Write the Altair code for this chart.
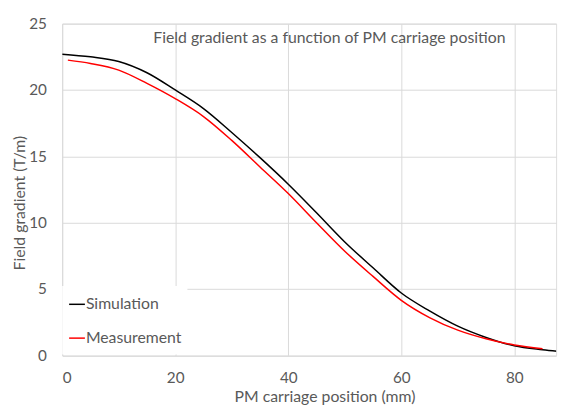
import altair as alt
import pandas as pd

# Simulation (black)
sim_x = [0, 5, 10, 15, 20, 25, 30, 35, 40, 45, 50, 55, 60, 65, 70, 75, 80, 85, 88.8]
sim_y = [22.7, 22.5, 22.15, 21.3, 20.0, 18.6, 16.8, 14.9, 12.9, 10.75, 8.55, 6.6, 4.7, 3.35, 2.2, 1.35, 0.72, 0.42, 0.25]

# Measurement (red)
meas_x = [1, 5, 10, 15, 20, 25, 30, 35, 40, 45, 50, 55, 60, 65, 70, 75, 80, 85]
meas_y = [22.25, 22.0, 21.5, 20.5, 19.35, 18.0, 16.2, 14.2, 12.2, 10.0, 7.85, 5.95, 4.15, 2.85, 1.9, 1.25, 0.78, 0.5]

series_names = ["Simulation", "Measurement"]
series_colors = ["#000000", "#FF0000"]
x_ticks = [0, 20, 40, 60, 80]
y_ticks = [0, 5, 10, 15, 20, 25]

title_text = "Field gradient as a function of PM carriage position"
x_title = "PM carriage position (mm)"
y_title = "Field gradient (T/m)"

FONT = "Lato"
GREY = "#595959"

df = pd.concat([
    pd.DataFrame({"x": sim_x, "y": sim_y, "series": series_names[0], "order": range(len(sim_x))}),
    pd.DataFrame({"x": meas_x, "y": meas_y, "series": series_names[1], "order": range(len(meas_x))}),
])

W, H = 501, 336.5

xscale = alt.Scale(domain=[0, 87.4], nice=False, zero=False)
yscale = alt.Scale(domain=[0, 25], nice=False)

lines = alt.Chart(df).mark_line(strokeWidth=1.5, clip=True, interpolate="monotone").encode(
    x=alt.X("x:Q", scale=xscale, axis=alt.Axis(
        values=x_ticks, title=x_title, grid=True, gridColor="#D9D9D9", domain=False,
        ticks=False, labelPadding=23, labelBaseline="middle", labelFontSize=15.5,
        labelColor=GREY, labelFont=FONT,
        titleFont=FONT, titleFontSize=16, titleColor=GREY, titleFontWeight="normal",
        titleX=266, titleY=42, titleBaseline="middle", titleAnchor="start", titleAlign="center")),
    y=alt.Y("y:Q", scale=yscale, axis=alt.Axis(
        values=y_ticks, title=y_title, grid=True, gridColor="#D9D9D9", domain=False,
        ticks=False, labelPadding=16, labelFontSize=15.5, labelColor=GREY, labelFont=FONT,
        titleFont=FONT, titleFontSize=16, titleColor=GREY, titleFontWeight="normal",
        titleAngle=270, titleX=-43, titleY=181.5, titleBaseline="middle", titleAlign="center")),
    color=alt.Color("series:N", scale=alt.Scale(domain=series_names, range=series_colors), legend=None),
    order="order:Q",
    detail="series:N",
)

one = pd.DataFrame({"a": [0]})

legend_bg = alt.Chart(one).mark_rect(fill="white").encode(
    x=alt.value(0), x2=alt.value(127), y=alt.value(266), y2=alt.value(335.5))

leg_sim_line = alt.Chart(one).mark_rule(color=series_colors[0], strokeWidth=1.5).encode(
    x=alt.value(7), x2=alt.value(23), y=alt.value(284.7))
leg_meas_line = alt.Chart(one).mark_rule(color=series_colors[1], strokeWidth=1.5).encode(
    x=alt.value(7), x2=alt.value(23), y=alt.value(319))
leg_sim_text = alt.Chart(one).mark_text(
    text=series_names[0], font=FONT, fontSize=16, color=GREY, align="left", baseline="middle").encode(
    x=alt.value(24), y=alt.value(284.7))
leg_meas_text = alt.Chart(one).mark_text(
    text=series_names[1], font=FONT, fontSize=16, color=GREY, align="left", baseline="middle").encode(
    x=alt.value(24), y=alt.value(319))

title = alt.Chart(one).mark_text(
    text=title_text, font=FONT, fontSize=16, color=GREY, align="center", baseline="middle").encode(
    x=alt.value(271), y=alt.value(15))

chart = alt.layer(
    legend_bg, lines, leg_sim_line, leg_meas_line, leg_sim_text, leg_meas_text, title
).properties(
    width=W, height=H,
    autosize=alt.AutoSizeParams(type="none"),
    padding={"left": 55, "top": 13, "right": 8, "bottom": 50},
).configure_view(stroke=None).configure(background="white")

chart.save("out.html", embed_options={"renderer": "svg", "actions": False})
